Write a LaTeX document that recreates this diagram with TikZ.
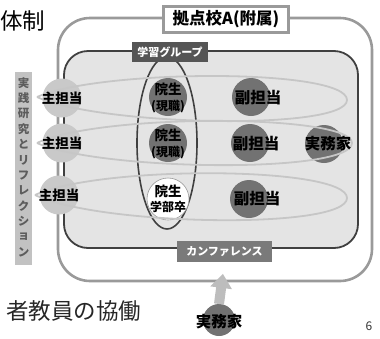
\documentclass[tikz,border=0pt]{standalone}
\usepackage{fontspec}
\setmainfont{Noto Sans CJK JP}
\usetikzlibrary{arrows.meta}
\definecolor{outerc}{HTML}{9A9A9A}
\definecolor{innerfill}{HTML}{E4E4E4}
\definecolor{innerline}{HTML}{404040}
\definecolor{darkc}{HTML}{727272}
\definecolor{lightc}{HTML}{C9C9C9}
\definecolor{lensc}{HTML}{C6C6C6}
\definecolor{tagdark}{HTML}{555555}
\definecolor{tagmid}{HTML}{7A7A7A}
\definecolor{vboxc}{HTML}{C2C2C2}
\definecolor{vtext}{HTML}{5C5C5C}
\definecolor{arrowc}{HTML}{BDBDBD}
\begin{document}
\begin{tikzpicture}[x=1pt,y=-1pt,
  every node/.style={inner sep=0pt,outer sep=0pt},
  outerbox/.style={draw=outerc,line width=2.6pt,fill=white,rounded corners=32pt},
  innerbox/.style={draw=innerline,line width=1.8pt,fill=innerfill,rounded corners=24pt},
  lightcirc/.style={circle,fill=lightc,minimum size=39pt},
  darkcirc/.style={circle,fill=darkc,minimum size=38pt},
  whitecirc/.style={circle,fill=white,draw=outerc,line width=0.6pt,minimum size=42pt},
  lab/.style={font=\fontsize{13.5}{15}\selectfont\bfseries,text=black},
  biglab/.style={font=\fontsize{15.5}{17}\selectfont\bfseries,text=black},
  stud/.style={font=\fontsize{12}{15.5}\selectfont\bfseries,text=black,align=center},
  lens/.style={draw=lensc,line width=1.8pt},
  vchar/.style={font=\fontsize{11.5}{12}\selectfont\bfseries,text=vtext},
  bigarrow/.style={draw=arrowc,line width=10pt,-{Triangle[width=21pt,length=14pt]}}
]
\useasboundingbox (0,0) rectangle (380,338);

% title and footer texts
\node[anchor=east,font=\fontsize{22.5}{24}\selectfont] (title) at (45,21) {体制};
\node[anchor=east,font=\fontsize{22.5}{24}\selectfont,text=black!85] (foot) at (141,311) {者教員の協働};
\node[font=\fontsize{12}{13}\selectfont,text=black!80] (pnum) at (369,326) {6};

% outer school box
\draw[outerbox] (58,18) rectangle (372,281);
\node[draw=outerc,line width=2.8pt,fill=white,minimum width=125pt,minimum height=26pt,
      font=\fontsize{16.5}{18}\selectfont\bfseries] (school) at (226,19.5) {拠点校A(附属)};

% inner learning group box
\draw[innerbox] (64,51) rectangle (358,248);

% vertical student ellipse
\draw[draw=innerline,line width=1.6pt] (167,143) ellipse [x radius=30, y radius=86];

% learning group tag
\node[fill=tagdark,text=white,minimum width=76pt,minimum height=20pt,
      font=\fontsize{11}{12}\selectfont\bfseries] (group) at (170,52) {学習グループ};

% circles
\node[lightcirc] (m1) at (62,98) {};
\node[lightcirc] (m2) at (62,143) {};
\node[lightcirc] (m3) at (59,195) {};
\node[darkcirc] (s1) at (168,97) {};
\node[darkcirc] (s2) at (168,143) {};
\node[whitecirc] (s3) at (168,199) {};
\node[darkcirc] (v1) at (251,97) {};
\node[darkcirc] (v2) at (250,143) {};
\node[darkcirc] (v3) at (249,199) {};
\node[darkcirc] (p2) at (324,144) {};

% lens shaped rows
\draw[lens] (37,97) .. controls (100,69) and (347,68) .. (347,100)
             .. controls (347,131) and (100,126) .. (37,97);
\draw[lens] (37,143) .. controls (100,113) and (352,114) .. (352,143)
             .. controls (352,174) and (100,171) .. (37,143);
\draw[lens] (35,195) .. controls (100,165) and (347,166) .. (347,198)
             .. controls (347,230) and (100,226) .. (35,195);

% circle texts
\node[lab] (m1t) at (62,98) {主担当};
\node[lab] (m2t) at (62,143) {主担当};
\node[lab] (m3t) at (59,195) {主担当};
\node[stud] (s1t) at (168,98) {{\fontsize{13.5}{15.5}\selectfont 院生}\\(現職)};
\node[stud] (s2t) at (168,144) {{\fontsize{13.5}{15.5}\selectfont 院生}\\(現職)};
\node[stud] (s3t) at (168,199) {{\fontsize{13.5}{15.5}\selectfont 院生}\\学部卒};
\node[biglab] (v1t) at (258,98) {副担当};
\node[biglab] (v2t) at (256,144) {副担当};
\node[biglab] (v3t) at (257,199) {副担当};
\node[biglab] (p2t) at (328,144) {実務家};

% conference tag
\node[fill=tagmid,text=white,minimum width=95pt,minimum height=21pt,
      font=\fontsize{11}{12}\selectfont\bfseries] (conf) at (224.5,251.5) {カンファレンス};

% vertical label
\node[fill=vboxc,minimum width=17pt,minimum height=193pt] (vbox) at (23.5,168.5) {};
\foreach \c [count=\i from 0] in {実,践,研,究,と,リ,フ,レ,ク,シ,ョ,ン}{
  \node[vchar] (vc\i) at (23.5,83+15.4*\i) {\c};
}

% practitioner at bottom with arrow
\node[darkcirc,minimum size=32pt] (pb) at (219,320) {};
\draw[bigarrow,shorten >=12pt] (pb.north) -- (conf.south);
\node[biglab] (pbt) at (219,322) {実務家};
\end{tikzpicture}
\end{document}
